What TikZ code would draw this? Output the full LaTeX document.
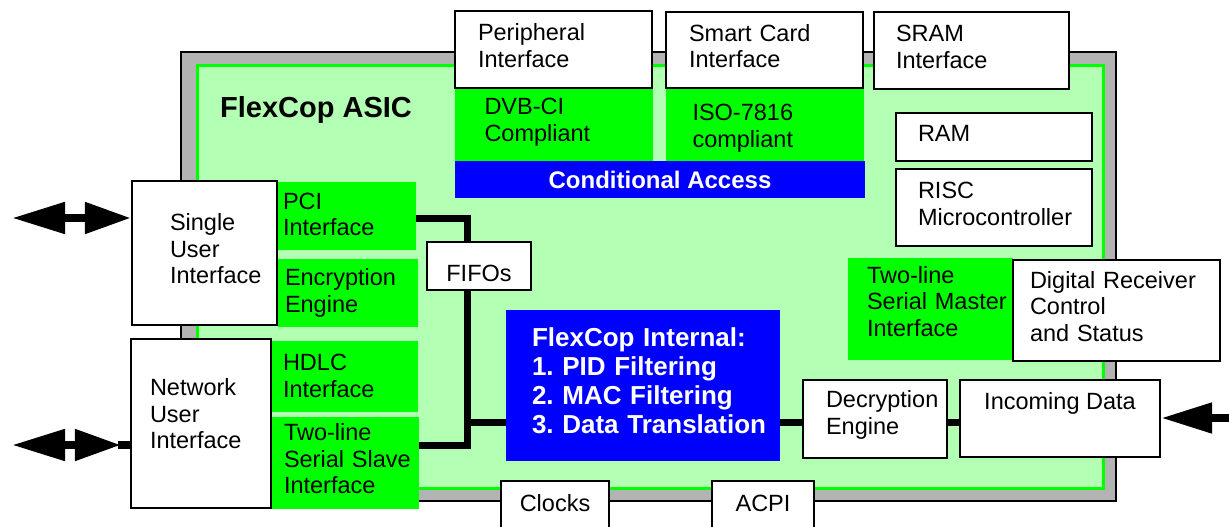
\documentclass[tikz,border=0pt]{standalone}
\usepackage{fontspec}
\setmainfont{Liberation Sans}
\usetikzlibrary{arrows.meta, positioning}
\hyphenpenalty=10000
\exhyphenpenalty=10000
\definecolor{asicgreen}{RGB}{179,255,179}
\definecolor{blockgreen}{RGB}{0,255,0}
\definecolor{framegray}{RGB}{179,179,179}
\definecolor{cablue}{RGB}{0,0,255}
\tikzstyle{wbox} = [rectangle, draw, line width=2.2pt, fill=white, inner sep=0pt, align=left, text height=9pt, font=\fontsize{23.5}{26.5}\selectfont]
\tikzstyle{gbox} = [rectangle, fill=blockgreen, inner sep=0pt, align=left, text height=9pt, font=\fontsize{23.5}{26.5}\selectfont]
\tikzstyle{bbox} = [rectangle, fill=cablue, text=white, inner sep=0pt, align=left]
\tikzstyle{bus} = [draw, line width=7pt]
\tikzstyle{bigline} = [draw, line width=8pt]
\tikzstyle{biglink} = [bigline, {Triangle[length=53pt,width=30pt]}-{Triangle[length=46pt,width=30pt]}]

\begin{document}
\begin{tikzpicture}[x=1pt, y=-1pt]
        \useasboundingbox (0,0) rectangle (1229,527);
        % ASIC frame
        \draw[line width=2pt, fill=framegray] (181,52) rectangle (1116,501);
        \draw[line width=3pt, draw=blockgreen, fill=asicgreen] (197.5,66) rectangle (1103,488);
        \node[font=\bfseries\fontsize{29}{33}\selectfont] (title) at (316,110) {FlexCop ASIC};

        % Nodes
        \node[wbox, minimum width=197pt, minimum height=77pt, text width=151pt] (per) at (553.5,49.5) {Peripheral\\Interface};
        \node[gbox, minimum width=198pt, minimum height=73pt, text width=138pt, below=0pt of per] (dvb) {DVB-CI\\Compliant};
        \node[wbox, minimum width=197pt, minimum height=76pt, text width=151pt] (smc) at (764.5,50) {Smart Card\\Interface};
        \node[gbox, minimum width=198pt, minimum height=73pt, text width=144pt, text height=21pt, below=0pt of smc] (iso) {ISO-7816\\compliant};
        \node[bbox, minimum width=410pt, minimum height=37pt, font=\bfseries\fontsize{24}{27}\selectfont] (ca) at (660,179.5) {Conditional Access};
        \node[wbox, minimum width=195pt, minimum height=77pt, text width=151pt] (sram) at (971.5,50.5) {SRAM\\Interface};
        \node[wbox, minimum width=196pt, minimum height=48pt, text width=152pt] (ram) at (994,137) {RAM};
        \node[wbox, minimum width=196pt, minimum height=77pt, text width=152pt] (risc) at (994,207.5) {RISC\\Microcontroller};

        \node[gbox, minimum width=165pt, minimum height=102pt, text width=127pt, text depth=61pt] (tsm) at (930.5,309) {Two-line\\Serial~Master\\Interface};
        \node[wbox, minimum width=207pt, minimum height=101pt, text width=173pt] (drc) at (1116.5,310.5) {Digital~Receiver\\Control\\and~Status};
        \node[wbox, minimum width=144pt, minimum height=78pt, text width=98pt] (dec) at (875,419) {Decryption\\Engine};
        \node[wbox, minimum width=200pt, minimum height=77pt, text height=17pt, text depth=35pt] (inc) at (1060,418.5) {Incoming Data};

        \node[gbox, minimum width=138pt, minimum height=68pt, text width=128pt, text height=13pt] (pci) at (347,216) {PCI\\Interface};
        \node[gbox, minimum width=140pt, minimum height=68pt, text width=126pt, text height=17pt] (enc) at (348,293) {Encryption\\Engine};
        \node[gbox, minimum width=146pt, minimum height=71pt, text width=124pt, text height=15pt] (hdlc) at (345,376.5) {HDLC\\Interface};
        \node[gbox, minimum width=149pt, minimum height=92pt, text width=121pt] (tss) at (344.5,463) {Two-line\\Serial~Slave\\Interface};
        \node[wbox, minimum width=145pt, minimum height=144pt, text width=69pt] (sui) at (204.5,253) {Single\\User\\Interface};
        \node[wbox, minimum width=140pt, minimum height=169pt, text width=102pt, text depth=65pt] (nui) at (201,423.5) {Network\\User\\Interface};

        \node[bbox, minimum width=274pt, minimum height=151pt, text width=222pt, text height=9pt, font=\bfseries\fontsize{26}{29}\selectfont] (fci) at (643,385.5) {FlexCop~Internal:\\1.~PID~Filtering\\2.~MAC~Filtering\\3.~Data~Translation};
        \node[wbox, minimum width=108pt, minimum height=60pt, text height=17pt, text depth=17pt] (clk) at (555,511) {Clocks};
        \node[wbox, minimum width=102pt, minimum height=60pt, text height=17pt, text depth=17pt] (acpi) at (763,511) {ACPI};

        % Bus
        \coordinate (bustop) at (467,218);
        \coordinate (busmid) at (467,422);
        \coordinate (busbot) at (467,445);
        \path[bus] (pci.east |- bustop) -- (bustop) -- (busbot) -- (tss.east |- busbot);
        \path[bus] (busmid) -- (fci.west |- busmid);
        \path[bus] (fci.east |- busmid) -- (dec.west |- busmid);
        \path[bus] (dec.east |- busmid) -- (inc.west |- busmid);
        \node[wbox, minimum width=104pt, minimum height=48pt, text height=31pt] (fifo) at (479,266) {FIFOs};

        % Arrows
        \coordinate (suext) at (12,218);
        \coordinate (nuext) at (12,445);
        \coordinate (incext) at (1229,418);
        \path[biglink] (suext) -- (sui.west |- suext);
        \path[biglink] (nuext) -- ([xshift=-9pt]nui.west |- nuext);
        \path[bigline] ([xshift=-12pt]nui.west |- nuext) -- (nui.west |- nuext);
        \path[bigline, -{Triangle[length=51pt,width=29pt]}] (incext) -- (inc.east |- incext);
    \end{tikzpicture}
\end{document}
